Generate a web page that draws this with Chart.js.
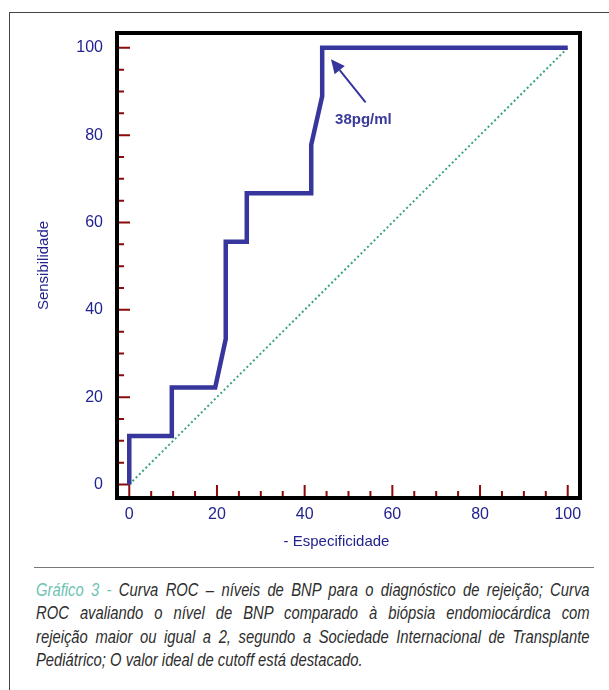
<!DOCTYPE html>
<html>
<head>
<meta charset="utf-8">
<script src="https://cdn.jsdelivr.net/npm/chart.js@4.4.0/dist/chart.umd.min.js"></script>
<style>
  html, body { margin: 0; padding: 0; background: #fff; }
  body { width: 609px; height: 690px; position: relative; overflow: hidden; }
  #frame { position: absolute; left: 9px; top: 12px; width: 700px; height: 700px;
           border-left: 1.5px solid #444; border-top: 1.5px solid #444; }
  #chart { position: absolute; left: 0; top: 0; }
  #rule { position: absolute; left: 34px; top: 567px; width: 560px; border-top: 1.5px solid #777; }
  #caption { position: absolute; left: 36px; top: 578px; color: #2e2e2e;
             font: italic 18.5px "Liberation Sans", Arial, sans-serif; line-height: 23.3px; }
  /* narrow face is not installed: squeeze Liberation Sans horizontally */
  #caption div { width: 692px; transform: scaleX(0.8); transform-origin: 0 0;
                 text-align: justify; text-align-last: justify; }
  #caption div.last { text-align: left; text-align-last: left; }
  #caption .lead { color: #6cc3b3; }
</style>
</head>
<body>
<div id="frame"></div>
<canvas id="chart" width="609" height="560"></canvas>
<div id="rule"></div>
<div id="caption">
  <div><span class="lead">Gráfico 3 -</span> Curva ROC – níveis de BNP para o diagnóstico de rejeição; Curva</div>
  <div>ROC avaliando o nível de BNP comparado à biópsia endomiocárdica com</div>
  <div>rejeição maior ou igual a 2, segundo a Sociedade Internacional de Transplante</div>
  <div class="last">Pediátrico; O valor ideal de cutoff está destacado.</div>
</div>
<script>
(() => {
  'use strict'

  // ROC curve (1 - especificidade vs sensibilidade)
  const specificity = [0, 0, 9.7, 9.7, 19.6, 22, 22, 26.8, 26.8, 41.5, 41.5, 44, 44, 100]
  const sensitivity = [0, 11.1, 11.1, 22.2, 22.2, 33.3, 55.6, 55.6, 66.7, 66.7, 77.8, 88.9, 100, 100]
  // reference line
  const diagonalX = [0, 100]
  const diagonalY = [0, 100]
  // ticks
  const majorTicks = [0, 20, 40, 60, 80, 100]
  const minorTicks = [5, 10, 15, 25, 30, 35, 45, 50, 55, 65, 70, 75, 85, 90, 95]
  // cutoff annotation (data units)
  const cutoffText = '38pg/ml'
  const arrowFrom = [53.9, 87.5]
  const arrowTo = [46.0, 97.4]
  const textAt = [53.4, 83.5]

  const navy = '#23238f'
  const curveColor = '#36369c'

  const decor = {
    id: 'decor',
    beforeDatasetsDraw(chart) {
      const { ctx, chartArea: a, scales: { x, y } } = chart
      ctx.save()
      ctx.strokeStyle = '#8b0a0a'
      ctx.lineWidth = 2
      const mark = (v, len) => {
        const px = x.getPixelForValue(v)
        const py = y.getPixelForValue(v)
        ctx.beginPath()
        ctx.moveTo(px, a.bottom)
        ctx.lineTo(px, a.bottom - len)
        ctx.moveTo(a.left, py)
        ctx.lineTo(a.left + len, py)
        ctx.stroke()
      }
      majorTicks.forEach(v => mark(v, 13))
      minorTicks.forEach(v => mark(v, 7))
      ctx.restore()
    },
    afterDatasetsDraw(chart) {
      const { ctx, chartArea: a } = chart
      ctx.save()
      ctx.strokeStyle = '#000'
      ctx.lineWidth = 4
      ctx.strokeRect(a.left, a.top, a.right - a.left, a.bottom - a.top)
      ctx.restore()
    },
    afterDraw(chart) {
      const { ctx, chartArea: a, scales: { x, y } } = chart
      ctx.save()
      // arrow
      const x1 = x.getPixelForValue(arrowFrom[0]), y1 = y.getPixelForValue(arrowFrom[1])
      const x2 = x.getPixelForValue(arrowTo[0]), y2 = y.getPixelForValue(arrowTo[1])
      const ang = Math.atan2(y2 - y1, x2 - x1)
      const head = 14, half = 6.5
      ctx.strokeStyle = curveColor
      ctx.fillStyle = curveColor
      ctx.lineWidth = 2
      ctx.beginPath()
      ctx.moveTo(x1, y1)
      ctx.lineTo(x2 - Math.cos(ang) * head, y2 - Math.sin(ang) * head)
      ctx.stroke()
      ctx.beginPath()
      ctx.moveTo(x2, y2)
      ctx.lineTo(x2 - Math.cos(ang) * head - Math.sin(ang) * half, y2 - Math.sin(ang) * head + Math.cos(ang) * half)
      ctx.lineTo(x2 - Math.cos(ang) * head + Math.sin(ang) * half, y2 - Math.sin(ang) * head - Math.cos(ang) * half)
      ctx.closePath()
      ctx.fill()
      // cutoff label
      ctx.fillStyle = '#3a3a9a'
      ctx.font = 'bold 15px "Liberation Sans", Arial, sans-serif'
      ctx.textAlign = 'center'
      ctx.textBaseline = 'middle'
      ctx.fillText(cutoffText, x.getPixelForValue(textAt[0]), y.getPixelForValue(textAt[1]))
      // x axis title
      ctx.fillStyle = navy
      ctx.font = '15px "Liberation Sans", Arial, sans-serif'
      ctx.fillText('- Especificidade', (a.left + a.right) / 2 - 12, a.bottom + 44)
      ctx.restore()
    }
  }

  const setTicks = scale => { scale.ticks = majorTicks.map(v => ({ value: v })) }
  const tickFont = { family: '"Liberation Sans", Arial, sans-serif', size: 16 }

  const ctx = document.getElementById('chart')
  // eslint-disable-next-line no-unused-vars
  const rocChart = new Chart(ctx, {
    type: 'scatter',
    data: {
      datasets: [{
        data: specificity.map((v, i) => ({ x: v, y: sensitivity[i] })),
        showLine: true,
        borderColor: curveColor,
        borderWidth: 4.5,
        pointRadius: 0,
        tension: 0
      }, {
        data: diagonalX.map((v, i) => ({ x: v, y: diagonalY[i] })),
        showLine: true,
        borderColor: '#3aa57a',
        borderWidth: 2,
        borderDash: [2, 2.6],
        pointRadius: 0
      }]
    },
    plugins: [decor],
    options: {
      responsive: false,
      animation: false,
      layout: { padding: { top: 33, right: 29, left: 0, bottom: 0 } },
      plugins: {
        legend: { display: false },
        tooltip: { enabled: false }
      },
      scales: {
        x: {
          type: 'linear',
          min: -2.8,
          max: 102.8,
          grid: { display: false, drawTicks: false },
          border: { display: false },
          afterBuildTicks: setTicks,
          afterFit: s => { s.height = 62 },
          ticks: { color: navy, font: tickFont, padding: 7, maxRotation: 0, autoSkip: false }
        },
        y: {
          type: 'linear',
          min: -3.1,
          max: 103.4,
          grid: { display: false, drawTicks: false },
          border: { display: false },
          afterBuildTicks: setTicks,
          afterFit: s => { s.width = 117 },
          ticks: { color: navy, font: tickFont, padding: 14, autoSkip: false },
          title: {
            display: true,
            text: 'Sensibilidade',
            color: navy,
            font: { family: '"Liberation Sans", Arial, sans-serif', size: 15 },
            padding: { top: 35, bottom: 0 }
          }
        }
      }
    }
  })
})()
</script>
</body>
</html>
